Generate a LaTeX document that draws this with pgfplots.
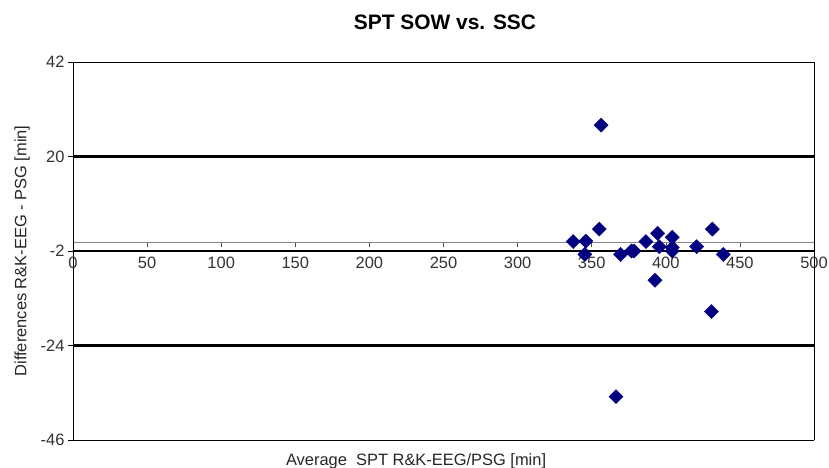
\documentclass[border=0pt]{standalone}
\usepackage{pgfplots}
\pgfplotsset{compat=1.18}
\usepackage{fontspec}
\setmainfont{Liberation Sans}
\definecolor{navymark}{RGB}{0,0,128}
\definecolor{axisgray}{RGB}{134,134,134}

% Bland-Altman data: mean of both methods vs. difference
\pgfplotstableread{
x      y
356.3  27.3
355.1  3.1
337.5  0.2
346.1  0.3
345.4  -2.8
369.5  -2.8
376.9  -2.0
378.5  -2.0
386.6  0.2
394.5  2.1
395.6  -1.0
392.7  -8.8
404.4  1.2
404.4  -1.2
404.4  -2.0
420.8  -1.0
431.4  3.1
438.8  -2.8
366.4  -35.9
430.8  -16.1
}\datatable

\begin{document}
\begin{tikzpicture}
\path[use as bounding box] (-73bp,-28bp) rectangle (756bp,440bp);
\begin{axis}[
  at={(0,0)}, anchor=south west,
  scale only axis, width=741bp, height=378bp,
  xmin=0, xmax=500, ymin=-46, ymax=42,
  axis x line=middle, axis y line=box,
  axis line style={-},
  x axis line style={axisgray, line width=1.3bp},
  y axis line style={black, line width=0.9bp},
  hide obscured x ticks=false,
  xtick={0,50,...,500},
  ytick={-46,-24,-2,20,42},
  ytick pos=left,
  ytick align=outside,
  xtick align=outside,
  major tick length=5bp,
  xtick style={black!70, line width=0.6bp},
  ytick style={black, line width=0.6bp},
  minor tick num=0,
  font=\fontsize{16.5}{19}\selectfont,
  /pgf/number format/assume math mode=true,
  xticklabel style={anchor=center, yshift=-15bp, text=black!80},
  yticklabel style={text=black!80},
  title={SPT SOW vs. SSC},
  title style={at={(axis description cs:0.502,1.09)}, anchor=center,
    font=\fontsize{21}{25}\selectfont\bfseries},
  xlabel={Average\ \ SPT R\&K-EEG/PSG [min]},
  xlabel style={at={(axis description cs:0.463,-0.0556)}, anchor=center, text=black!85},
  ylabel={Differences R\&K-EEG - PSG [min]},
  ylabel style={at={(axis description cs:-0.0688,0.5)}, anchor=center, text=black!85},
  clip=false,
]
% frame top and bottom
\draw[black, line width=0.9bp] (rel axis cs:0,0) -- (rel axis cs:1,0);
\draw[black, line width=0.9bp] (rel axis cs:0,1) -- (rel axis cs:1,1);
% mean and limits of agreement
\addplot[black, line width=2.6bp] coordinates {(0,20) (500,20)};
\addplot[black, line width=2.6bp] coordinates {(0,-2) (500,-2)};
\addplot[black, line width=2.6bp] coordinates {(0,-24) (500,-24)};
\addplot[only marks, mark=square*, mark size=5bp,
  mark options={rotate=45, fill=navymark, draw=navymark}]
  table[x=x, y=y] {\datatable};
\end{axis}
\end{tikzpicture}
\end{document}
